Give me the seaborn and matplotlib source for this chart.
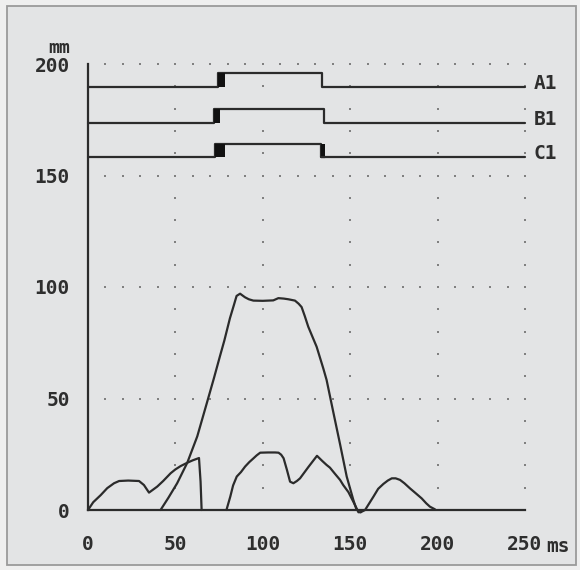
import numpy as np
import pandas as pd
import matplotlib
matplotlib.use("Agg")
import matplotlib.pyplot as plt
import seaborn as sns
from matplotlib.patches import Rectangle

# ---------------- data ----------------
# analogue traces: time [ms], travel [mm]
t_trace1 = [0, 3, 7.3, 11, 14.9, 17.8, 23, 29.2, 32, 34.9, 37, 39.6, 43, 47.3, 50, 53,
            56.8, 60, 63.5, 64.4, 65]
y_trace1 = [0, 3.5, 6.7, 9.8, 12, 13, 13.2, 13, 11.2, 7.8, 9, 10.5, 13, 16.5, 18.2, 19.7,
            21.2, 22.3, 23.3, 12.7, 0]

t_trace2 = [41.5, 46, 51, 56.8, 62.5, 68, 72, 75.5, 78, 81.2, 83.5, 85, 87, 89.8, 92, 94.6,
            100, 106, 108.9, 112, 114.6, 118.4, 120.5, 122.2, 124, 126, 128.5, 130.8, 134.6,
            136.5, 140.3, 144.2, 148, 151.8, 153.7]
y_trace2 = [0, 5.5, 12, 21.2, 33, 48, 59, 69, 76, 86, 92, 96, 97, 95.4, 94.5, 93.9,
            93.8, 94, 95, 94.8, 94.5, 93.9, 92.5, 91, 87, 82.2, 77.5, 73.2, 63.5,
            58.3, 44, 29.5, 15, 4.5, 0]

t_trace3 = [79.2, 81.4, 83, 85.1, 87.5, 89.9, 92.3, 94.7, 96.5, 98.5, 103, 107, 109, 110.5,
            111.9, 113.8, 115.6, 117.5, 119.5, 121.3, 126, 131, 134, 136.5, 138.4, 141,
            144.2, 146, 149, 151.8, 153.5, 154.7, 156]
y_trace3 = [0, 6, 11, 15, 17, 19.5, 21.5, 23.2, 24.5, 25.7, 25.8, 25.8, 25.7, 24.8,
            23.2, 18, 12.7, 12, 13, 14.2, 19.2, 24.3, 22, 20.2, 19, 16.5,
            13.5, 11.2, 8, 3.7, 1, -1, -1]

t_trace4 = [156, 158.5, 160.5, 163.3, 166, 169, 171.5, 173.8, 176, 178.5, 181, 184.2,
            187.5, 190.9, 193.5, 195.6, 198.5]
y_trace4 = [-1, 0, 2.5, 6, 9.5, 11.7, 13.2, 14.2, 14.2, 13.5, 12, 9.7,
            7.5, 5.2, 3, 1.5, 0.3]

# contact signals
signal_names = ["A1", "B1", "C1"]
signal_low = [189.8, 173.7, 158.2]
signal_high = [195.8, 179.7, 164.0]
rise_start = [74.5, 72.0, 72.9]
rise_end = [78.3, 75.7, 78.3]
fall_start = [133.8, 135.0, 133.1]
fall_end = [133.8, 135.0, 135.8]
t_end = 250

x_ticks = [0, 50, 100, 150, 200, 250]
x_labels = ["0", "50", "100", "150", "200", "250"]
y_ticks = [0, 50, 100, 150, 200]
y_labels = ["0", "50", "100", "150", "200"]

# ---------------- style ----------------
sns.set_style("white")
plt.rcParams["font.family"] = ["DejaVu Sans Mono", "DejaVu Sans"]
plt.rcParams["font.weight"] = "bold"
LINE = "#2b2b2b"
TEXT = "#2e2e2e"
DOT = "#808080"
FS = 14

W, H = 580, 570
fig = plt.figure(figsize=(W / 100, H / 100), dpi=100, facecolor="#efefef")
fig.patches.append(Rectangle((7 / W, 5 / H), 569 / W, 559 / H, transform=fig.transFigure,
                             facecolor="#e3e4e5", edgecolor="#9a9a9a", lw=1.3, zorder=-10))

ax = fig.add_axes([88 / W, 60 / H, 437 / W, 446 / H])
ax.set_zorder(5)
ax.set_facecolor("none")
ax.patch.set_alpha(0)
ax.set_xlim(0, 250)
ax.set_ylim(0, 200)

# dotted grid
gx, gy = [], []
for yv in [50, 100, 150, 200]:
    for xv in np.arange(10, 251, 10):
        gx.append(xv); gy.append(yv)
for xv in [50, 100, 150, 200, 250]:
    for yv in np.arange(10, 201, 10):
        gx.append(xv); gy.append(yv)
ax.scatter(gx, gy, s=4, marker="s", color=DOT, linewidths=0, zorder=1, clip_on=False)

# traces
for t, y in [(t_trace1, y_trace1), (t_trace2, y_trace2), (t_trace3, y_trace3), (t_trace4, y_trace4)]:
    df = pd.DataFrame({"t": t, "mm": y})
    sns.lineplot(data=df, x="t", y="mm", ax=ax, color=LINE, lw=1.6, estimator=None,
                 sort=False, clip_on=False, zorder=3)

# signals
for name, lo, hi, rs, re, fs, fe in zip(signal_names, signal_low, signal_high,
                                        rise_start, rise_end, fall_start, fall_end):
    df = pd.DataFrame({"t": [0, rs, rs, fs, fs, t_end],
                       "mm": [lo, lo, hi, hi, lo, lo]})
    sns.lineplot(data=df, x="t", y="mm", ax=ax, color=LINE, lw=1.6, estimator=None,
                 sort=False, clip_on=False, zorder=3)
    ax.fill_between([rs, re], lo, hi, color="#111111", lw=0, zorder=3)
    if fe > fs:
        ax.fill_between([fs, fe], lo, hi, color="#111111", lw=0, zorder=3)
        ax.plot([fs, fe], [lo, lo], color=LINE, lw=1.6, zorder=3)
    ax.annotate(name, xy=(t_end, lo), xytext=(6, -1.5), textcoords="offset points",
                ha="left", va="baseline", fontsize=FS, color=TEXT, annotation_clip=False)

# axes
for s in ["top", "right"]:
    ax.spines[s].set_visible(False)
for s in ["left", "bottom"]:
    ax.spines[s].set_color(LINE)
    ax.spines[s].set_linewidth(1.6)
ax.set_xticks(x_ticks)
ax.set_xticklabels(x_labels)
ax.set_yticks(y_ticks)
ax.set_yticklabels(y_labels)
ax.tick_params(axis="x", direction="out", length=8, width=1.6, color=LINE, pad=10,
               labelsize=FS, labelcolor=TEXT)
ax.tick_params(axis="y", direction="out", length=5, width=1.6, color=LINE, pad=8,
               labelsize=FS, labelcolor=TEXT)
ax.set_xlabel("")
ax.set_ylabel("")

ax.annotate("ms", xy=(250, 0), xytext=(15, -30), textcoords="offset points",
            ha="left", va="baseline", fontsize=FS, color=TEXT, annotation_clip=False)
ax.annotate("mm", xy=(0, 200), xytext=(-13, 8), textcoords="offset points",
            ha="right", va="baseline", fontsize=FS - 1, color=TEXT, annotation_clip=False)

fig.savefig("out.png", dpi=100, facecolor=fig.get_facecolor())
